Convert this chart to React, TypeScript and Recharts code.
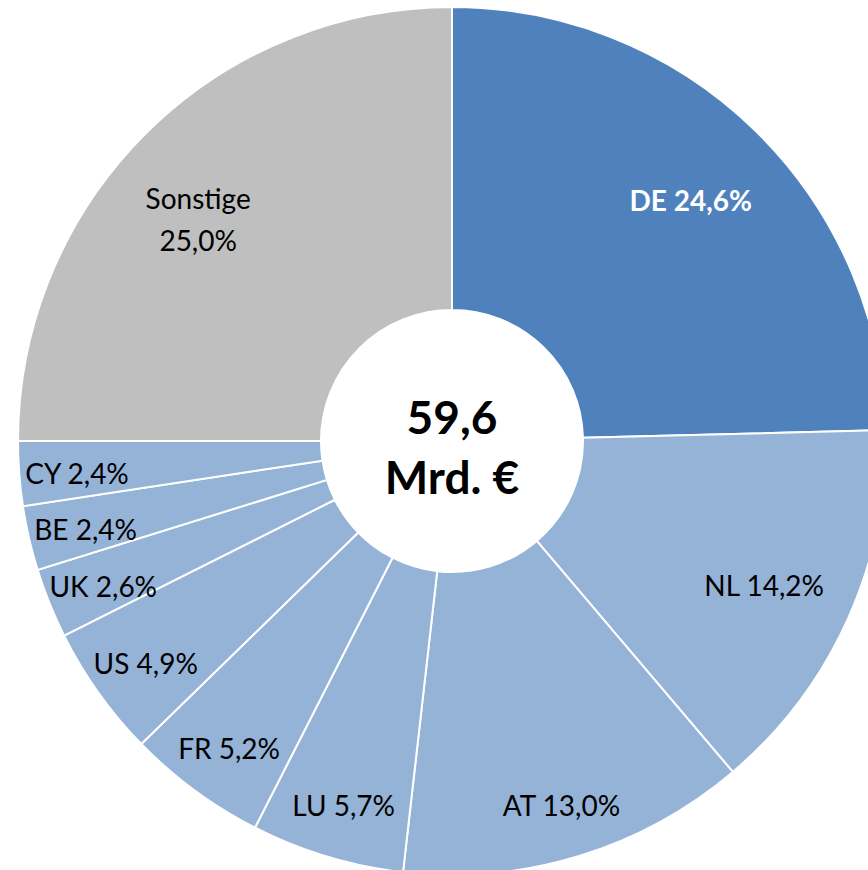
import { PieChart, Pie, Cell } from 'recharts';

// Anteile nach Ländern (in %), im Uhrzeigersinn ab 12 Uhr
const countries = ['DE', 'NL', 'AT', 'LU', 'FR', 'US', 'UK', 'BE', 'CY', 'Sonstige'];
const shares = [24.6, 14.2, 13.0, 5.7, 5.2, 4.9, 2.6, 2.4, 2.4, 25.0];
const centerLines = ['59,6', 'Mrd. €'];

const COLOR_DE = '#4F81BD';
const COLOR_COUNTRY = '#95B3D7';
const COLOR_OTHER = '#BFBFBF';
const FONT = 'Lato, "Open Sans", sans-serif';
const RADIAN = Math.PI / 180;

const chartData = countries.map((name, i) => ({ name, value: shares[i] }));

const fmt = (v: number) => v.toFixed(1).replace('.', ',') + '%';

function sliceColor(name: string) {
  if (name === 'DE') return COLOR_DE;
  if (name === 'Sonstige') return COLOR_OTHER;
  return COLOR_COUNTRY;
}

/**
 * Slice label: big slices sit a bit further in, small ones near the rim
 */
function SliceLabel(props: any) {
  const { cx, cy, midAngle, name, value } = props;
  const r = value >= 14 ? 342 : 376;
  const x = cx + r * Math.cos(-midAngle * RADIAN);
  const y = cy + r * Math.sin(-midAngle * RADIAN);
  const isDE = name === 'DE';

  if (name === 'Sonstige') {
    return (
      <text x={x - 12} y={y} textAnchor="middle" fontFamily={FONT} fontSize={28} fill="#000">
        <tspan x={x - 12} dy={10}>{name}</tspan>
        <tspan x={x - 12} dy={42}>{fmt(value)}</tspan>
      </text>
    );
  }

  return (
    <text
      x={x}
      y={y + 4}
      textAnchor="middle"
      dominantBaseline="central"
      fontFamily={FONT}
      fontSize={28}
      fontWeight={isDE ? 700 : 400}
      fill={isDE ? '#fff' : '#000'}
    >
      {`${name} ${fmt(value)}`}
    </text>
  );
}

export default function App() {
  return (
    <div style={{ position: 'absolute', left: 0, top: 0, width: 868, height: 870, background: '#fff' }}>
      <PieChart width={868} height={870} margin={{ top: 0, right: 0, bottom: 0, left: 0 }}>
        <Pie
          data={chartData}
          dataKey="value"
          nameKey="name"
          cx={452}
          cy={441}
          innerRadius={131}
          outerRadius={434}
          startAngle={90}
          endAngle={-270}
          stroke="#fff"
          strokeWidth={2}
          label={SliceLabel}
          labelLine={false}
          isAnimationActive={false}
        >
          {chartData.map((d) => (
            <Cell key={d.name} fill={sliceColor(d.name)} />
          ))}
        </Pie>
      </PieChart>
      <div
        style={{
          position: 'absolute',
          left: 452 - 130,
          top: 441 - 54,
          width: 260,
          height: 120,
          display: 'flex',
          flexDirection: 'column',
          alignItems: 'center',
          justifyContent: 'center',
          fontFamily: FONT,
          fontWeight: 700,
          fontSize: 46,
          lineHeight: '60px',
          color: '#000',
        }}
      >
        {centerLines.map((l) => (
          <div key={l}>{l}</div>
        ))}
      </div>
    </div>
  );
}
